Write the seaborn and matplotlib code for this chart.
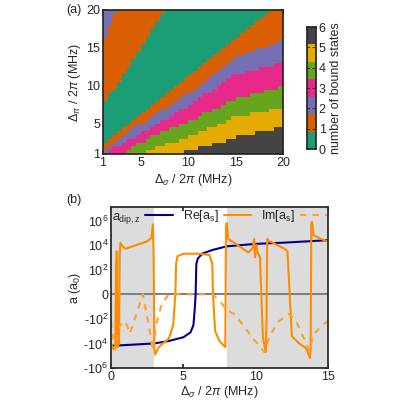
import numpy as np
import matplotlib
matplotlib.use("Agg")
import matplotlib.pyplot as plt
import seaborn as sns
from matplotlib.colors import ListedColormap, BoundaryNorm

sns.set_theme(style="ticks")
plt.rcParams['font.family'] = ['Liberation Sans', 'DejaVu Sans']
plt.rcParams['font.size'] = 9
plt.rcParams['mathtext.fontset'] = 'custom'
plt.rcParams['mathtext.rm'] = 'Liberation Sans'
plt.rcParams['mathtext.it'] = 'Liberation Sans:italic'
plt.rcParams['mathtext.sf'] = 'Liberation Sans'

# ---- panel (a): boundaries of bound-state bands at x nodes ----
x_nodes = [1, 5, 10, 15, 20]
B1 = [2.4, 6.1, 11.0, 16.5, 21.0]
B2 = [1.4, 5.0, 9.0, 13.8, 16.0]
B3 = [0.9, 3.7, 7.3, 11.5, 13.0]
B4 = [-1.0, 2.6, 5.3, 8.3, 9.9]
B5 = [-3.0, 1.0, 3.3, 5.9, 7.2]
B6 = [-8.0, -1.0, 1.4, 3.2, 4.5]
U_nodes = [1, 3, 5, 7.5, 20]
U1 = [7.3, 11.2, 14.7, 20.2, 40]
U2x = [1, 2.5, 20]
U2 = [16.0, 20.2, 60]
band_colors = ["#1b9e77", "#d95f02", "#7570b3", "#e7298a", "#66a61e", "#e6ab02", "#444444"]
cb_ticks = [0, 1, 2, 3, 4, 5, 6]

# ---- panel (b): signed log10 values ----
xd = [0, 3, 4, 5, 5.5, 5.7, 5.8, 5.85, 5.9, 6.0, 6.3, 7, 8, 10, 12, 15]
yd = [-4.2, -4.0, -3.8, -3.5, -3.1, -2.5, -1, 0, 2.5, 2.9, 3.3, 3.6, 3.9, 4.1, 4.2, 4.4]
xre = [0, 0.2, 0.3, 0.35, 0.4, 0.45, 0.55, 0.6, 0.65, 0.8, 1.0, 1.5, 2, 2.5, 2.8, 2.9, 2.95, 3.0, 3.05,
       3.3, 4, 4.3, 4.45, 4.5, 4.6, 5, 6, 6.8, 7.0, 7.05, 7.2, 7.5, 7.9, 7.95, 8.0, 8.1, 8.5, 9.0, 9.5,
       9.8, 9.9, 9.95, 10.05, 10.1, 10.3, 10.5, 10.7, 10.75, 10.8, 11, 11.5, 12, 12.2, 12.35, 12.5, 13,
       13.5, 13.75, 13.8, 13.85, 13.9, 14, 14.5, 15]
yre = [-4.0, -4.5, -4.2, 2, 3.5, -4.3, -4.0, 3.0, 4.2, 3.9, 3.7, 3.9, 4.1, 4.3, 4.6, 5.7, 3, -4.5, -4.9,
       -4.3, -3.6, -2.5, 0, 2.5, 3.1, 3.3, 3.3, 3.2, 2.5, 0, -3.0, -3.8, -4.3, 5.5, 5.8, 4.5, 4.2, 3.8, 3.4,
       3.8, 4.5, 3, 4.0, 3.5, 3, -3.5, -4.7, -2, 4.5, 4.3, 4.0, 3.7, 3.5, 0, -3.4, -4.0,
       -4.4, -5.2, -4.5, 5.8, 5.9, 4.8, 4.5, 4.3]
xim = [0, 0.15, 0.3, 0.45, 0.6, 0.8, 1.0, 1.3, 1.7, 2.2, 2.6, 2.9, 3.1, 3.5, 4.0, 5, 6, 7.0, 7.5, 8.0,
       8.5, 9.2, 9.8, 10.2, 10.6, 11.0, 11.6, 12.3, 12.8, 13.3, 13.7, 14.0, 14.5, 15]
yim = [-2.2, -3.5, -4.5, -3.5, -2.5, -2.4, -2.2, -3.2, -1.8, 0, -2.5, -4.6, -2.6, -0.8, 0, 0, 0, 0, -0.5, -1.3,
       -1.6, -2.6, -3.6, -4.1, -4.7, -3.3, -2.2, -1.6, -2.2, -3.5, -4.6, -3.3, -2.6, -2.2]
y_ticks = [-6, -4, -2, 0, 2, 4, 6]
y_labels = ["-10$^6$", "-10$^4$", "-10$^2$", "0", "10$^2$", "10$^4$", "10$^6$"]

fig = plt.figure(figsize=(4, 4), dpi=100)

# panel (a)
ax1 = fig.add_axes([103/400, 1-154/400, 180/400, 144/400])
gx = np.arange(1, 20.5, 0.5)
gy = np.arange(1, 20.25, 0.5)
cx = gx[:-1] + 0.25
cy = gy[:-1] + 0.25
X, Y = np.meshgrid(cx, cy)
cnt = np.zeros_like(X)
for B in [B1, B2, B3, B4, B5, B6]:
    cnt += (Y < np.interp(X, x_nodes, B))
upper = Y > np.interp(X, U_nodes, U1)
cnt = np.where(upper, 1 + (Y > np.interp(X, U2x, U2)), cnt)
cmap = ListedColormap(band_colors)
norm = BoundaryNorm(np.arange(-0.5, 7.5, 1), 7)
ax1.pcolormesh(gx, gy, cnt, cmap=cmap, norm=norm)
ax1.set_xlim(1, 20); ax1.set_ylim(1, 20)
ax1.set_xticks([1, 5, 10, 15, 20]); ax1.set_yticks([1, 5, 10, 15, 20])
ax1.tick_params(direction="in", top=True, right=True, length=3, labelsize=9, pad=2)
ax1.set_xlabel(r"$\Delta_\sigma$ / 2$\pi$ (MHz)", fontsize=9, labelpad=2)
ax1.set_ylabel(r"$\Delta_\pi$ / 2$\pi$ (MHz)", fontsize=9, labelpad=2)
fig.text(0.165, 0.99, "(a)", fontsize=9, va="top")

cax = fig.add_axes([307/400, 1-149/400, 9/400, 122/400])
cb_edges = np.arange(8)
cax.pcolormesh([0, 1], cb_edges, np.arange(7).reshape(-1, 1), cmap=cmap, norm=norm)
tpos = np.linspace(0, 7, 7)
for t in tpos[1:-1]:
    cax.axhline(t, color="k", lw=0.6, ls=(0, (3, 3)))
cax.set_xlim(0, 1); cax.set_ylim(0, 7)
cax.set_xticks([])
cax.yaxis.tick_right()
cax.set_yticks(tpos)
cax.set_yticklabels([str(t) for t in cb_ticks])
cax.tick_params(direction="in", length=0, labelsize=9, pad=2)
cax.yaxis.set_label_position("right")
cax.set_ylabel("number of bound states", fontsize=9, labelpad=3)

# panel (b)
ax2 = fig.add_axes([111/400, 1-368/400, 217/400, 161/400])
ax2.axvspan(0, 3, color="#dcdcdc", lw=0)
ax2.axvspan(8, 15, color="#dcdcdc", lw=0)
ax2.axhline(0, color="#808080", lw=1.5)
sns.lineplot(x=xd, y=yd, ax=ax2, color="#00008b", lw=1.5, label=r"$a_{\rm dip,z}$", sort=False, estimator=None)
sns.lineplot(x=xre, y=yre, ax=ax2, color="#ff8c00", lw=1.5, label=r"Re[a$_{\rm s}$]", sort=False, estimator=None)
sns.lineplot(x=xim, y=yim, ax=ax2, color="#ffa028", lw=1.5, ls=(0, (3, 3)), label=r"Im[a$_{\rm s}$]", sort=False, estimator=None)
ax2.set_xlim(0, 15); ax2.set_ylim(-6, 7.1)
ax2.set_xticks([0, 5, 10, 15])
ax2.set_yticks(y_ticks); ax2.set_yticklabels(y_labels)
ax2.tick_params(direction="in", top=True, right=True, length=3, labelsize=9, pad=2)
ax2.set_xlabel(r"$\Delta_\sigma$ / 2$\pi$ (MHz)", fontsize=9, labelpad=1)
ax2.set_ylabel(r"a (a$_0$)", fontsize=9, labelpad=0)
ax2.legend(loc="upper center", ncol=3, frameon=False, fontsize=9, handlelength=2.2,
           columnspacing=0.8, handletextpad=0.4, borderaxespad=0.1, markerfirst=False,
           bbox_to_anchor=(0.5, 1.03))
fig.text(0.165, 0.515, "(b)", fontsize=9, va="top")

fig.savefig("out.png", dpi=100)
